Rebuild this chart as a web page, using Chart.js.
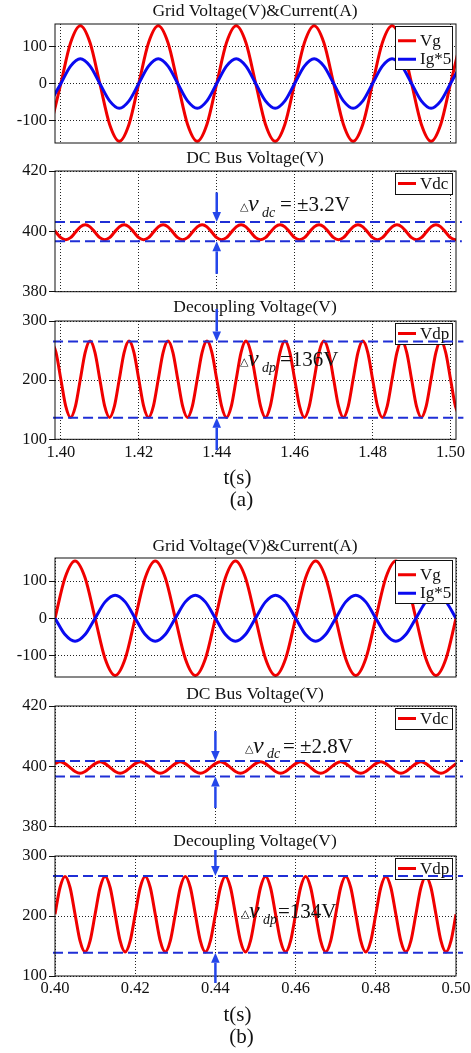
<!DOCTYPE html>
<html>
<head>
<meta charset="utf-8">
<script src="https://cdn.jsdelivr.net/npm/chart.js@4.4.1/dist/chart.umd.min.js"></script>
<style>
body{margin:0;background:#fff;width:471px;height:1053px;position:relative;overflow:hidden}
canvas{position:absolute;left:0}
</style>
</head>
<body>
<canvas id="a1"></canvas>
<canvas id="a2"></canvas>
<canvas id="a3"></canvas>
<canvas id="b1"></canvas>
<canvas id="b2"></canvas>
<canvas id="b3"></canvas>
<script>
/* (a) rectifier mode, t = 1.40 ~ 1.50 s */
var tGridA = [1.3975,1.4,1.4025,1.405,1.4075,1.41,1.4125,1.415,1.4175,1.42,1.4225,1.425,1.4275,1.43,1.4325,1.435,1.4375,1.44,1.4425,1.445,1.4475,1.45,1.4525,1.455,1.4575,1.46,1.4625,1.465,1.4675,1.47,1.4725,1.475,1.4775,1.48,1.4825,1.485,1.4875,1.49,1.4925,1.495,1.4975,1.5,1.5025];
var vgA = [-110,
  0,110,156,110,0,-110,-156,-110, 0,110,156,110,0,-110,-156,-110,
  0,110,156,110,0,-110,-156,-110, 0,110,156,110,0,-110,-156,-110,
  0,110,156,110,0,-110,-156,-110, 0,110];
var igA = [-47,
  0,47,67,47,0,-47,-67,-47, 0,47,67,47,0,-47,-67,-47,
  0,47,67,47,0,-47,-67,-47, 0,47,67,47,0,-47,-67,-47,
  0,47,67,47,0,-47,-67,-47, 0,47];
var tBusA = [
  1.3975,1.39875,1.4,1.40125,1.4025,1.40375,1.405,1.40625,
  1.4075,1.40875,1.41,1.41125,1.4125,1.41375,1.415,1.41625,
  1.4175,1.41875,1.42,1.42125,1.4225,1.42375,1.425,1.42625,
  1.4275,1.42875,1.43,1.43125,1.4325,1.43375,1.435,1.43625,
  1.4375,1.43875,1.44,1.44125,1.4425,1.44375,1.445,1.44625,
  1.4475,1.44875,1.45,1.45125,1.4525,1.45375,1.455,1.45625,
  1.4575,1.45875,1.46,1.46125,1.4625,1.46375,1.465,1.46625,
  1.4675,1.46875,1.47,1.47125,1.4725,1.47375,1.475,1.47625,
  1.4775,1.47875,1.48,1.48125,1.4825,1.48375,1.485,1.48625,
  1.4875,1.48875,1.49,1.49125,1.4925,1.49375,1.495,1.49625,
  1.4975,1.49875,1.5,1.50125,1.5025];
var vdcA = [
  401.5,399.7,397.9,397.2,397.9,399.7,401.5,402.2, 401.5,399.7,397.9,397.2,397.9,399.7,401.5,402.2,
  401.5,399.7,397.9,397.2,397.9,399.7,401.5,402.2, 401.5,399.7,397.9,397.2,397.9,399.7,401.5,402.2,
  401.5,399.7,397.9,397.2,397.9,399.7,401.5,402.2, 401.5,399.7,397.9,397.2,397.9,399.7,401.5,402.2,
  401.5,399.7,397.9,397.2,397.9,399.7,401.5,402.2, 401.5,399.7,397.9,397.2,397.9,399.7,401.5,402.2,
  401.5,399.7,397.9,397.2,397.9,399.7,401.5,402.2, 401.5,399.7,397.9,397.2,397.9,399.7,401.5,402.2,
  401.5,399.7,397.9,397.2,397.9];
var vdpA = [
  266,247.1,201.5,155.9,137,155.9,201.5,247.1, 266,247.1,201.5,155.9,137,155.9,201.5,247.1,
  266,247.1,201.5,155.9,137,155.9,201.5,247.1, 266,247.1,201.5,155.9,137,155.9,201.5,247.1,
  266,247.1,201.5,155.9,137,155.9,201.5,247.1, 266,247.1,201.5,155.9,137,155.9,201.5,247.1,
  266,247.1,201.5,155.9,137,155.9,201.5,247.1, 266,247.1,201.5,155.9,137,155.9,201.5,247.1,
  266,247.1,201.5,155.9,137,155.9,201.5,247.1, 266,247.1,201.5,155.9,137,155.9,201.5,247.1,
  266,247.1,201.5,155.9,137];

/* (b) inverter mode, t = 0.40 ~ 0.50 s */
var tGridB = [0.4,0.4025,0.405,0.4075,0.41,0.4125,0.415,0.4175,0.42,0.4225,0.425,0.4275,0.43,0.4325,0.435,0.4375,0.44,0.4425,0.445,0.4475,0.45,0.4525,0.455,0.4575,0.46,0.4625,0.465,0.4675,0.47,0.4725,0.475,0.4775,0.48,0.4825,0.485,0.4875,0.49,0.4925,0.495,0.4975,0.5];
var vgB = [
  0,109,154,109,0,-109,-154,-109, 0,109,154,109,0,-109,-154,-109,
  0,109,154,109,0,-109,-154,-109, 0,109,154,109,0,-109,-154,-109,
  0,109,154,109,0,-109,-154,-109, 0];
var igB = [
  0,-44,-62,-44,0,44,62,44, 0,-44,-62,-44,0,44,62,44,
  0,-44,-62,-44,0,44,62,44, 0,-44,-62,-44,0,44,62,44,
  0,-44,-62,-44,0,44,62,44, 0];
var tBusB = [
  0.4,0.40125,0.4025,0.40375,0.405,0.40625,0.4075,0.40875,
  0.41,0.41125,0.4125,0.41375,0.415,0.41625,0.4175,0.41875,
  0.42,0.42125,0.4225,0.42375,0.425,0.42625,0.4275,0.42875,
  0.43,0.43125,0.4325,0.43375,0.435,0.43625,0.4375,0.43875,
  0.44,0.44125,0.4425,0.44375,0.445,0.44625,0.4475,0.44875,
  0.45,0.45125,0.4525,0.45375,0.455,0.45625,0.4575,0.45875,
  0.46,0.46125,0.4625,0.46375,0.465,0.46625,0.4675,0.46875,
  0.47,0.47125,0.4725,0.47375,0.475,0.47625,0.4775,0.47875,
  0.48,0.48125,0.4825,0.48375,0.485,0.48625,0.4875,0.48875,
  0.49,0.49125,0.4925,0.49375,0.495,0.49625,0.4975,0.49875,
  0.5];
var vdcB = [
  400.9,401.5,400.9,399.6,398.3,397.7,398.3,399.6, 400.9,401.5,400.9,399.6,398.3,397.7,398.3,399.6,
  400.9,401.5,400.9,399.6,398.3,397.7,398.3,399.6, 400.9,401.5,400.9,399.6,398.3,397.7,398.3,399.6,
  400.9,401.5,400.9,399.6,398.3,397.7,398.3,399.6, 400.9,401.5,400.9,399.6,398.3,397.7,398.3,399.6,
  400.9,401.5,400.9,399.6,398.3,397.7,398.3,399.6, 400.9,401.5,400.9,399.6,398.3,397.7,398.3,399.6,
  400.9,401.5,400.9,399.6,398.3,397.7,398.3,399.6, 400.9,401.5,400.9,399.6,398.3,397.7,398.3,399.6,
  400.9];
var vdpB = [
  203,247.5,266,247.5,203,158.5,140,158.5, 203,247.5,266,247.5,203,158.5,140,158.5,
  203,247.5,266,247.5,203,158.5,140,158.5, 203,247.5,266,247.5,203,158.5,140,158.5,
  203,247.5,266,247.5,203,158.5,140,158.5, 203,247.5,266,247.5,203,158.5,140,158.5,
  203,247.5,266,247.5,203,158.5,140,158.5, 203,247.5,266,247.5,203,158.5,140,158.5,
  203,247.5,266,247.5,203,158.5,140,158.5, 203,247.5,266,247.5,203,158.5,140,158.5,
  203];

/* axes */
var xRangeA = [1.3985, 1.5014];
var xRangeB = [0.40, 0.50];
var xTicksA = [1.40, 1.42, 1.44, 1.46, 1.48, 1.50];
var xTicksB = [0.40, 0.42, 0.44, 0.46, 0.48, 0.50];
var yTicksGrid = [-100, 0, 100];
var yTicksDc = [380, 400, 420];
var yTicksDp = [100, 200, 300];

/* ripple bands (dashed) and arrow marks: [upper, lower] */
var dcBandA = [403.1, 396.7];
var dpBandA = [265.5, 136.5];
var dcBandB = [401.8, 396.6];
var dpBandB = [266.7, 138.8];
var dcArrowTailA = [412.9, 385.9];
var dpArrowTailA = [320.3, 81.9];
var dcArrowTailB = [411.7, 386.2];
var dpArrowTailB = [310, 88.3];
var arrowTimeA = 1.44;
var arrowTimeB = 0.44;

var SERIF = '"Liberation Serif", "Times New Roman", serif';
var RED = '#f00000';
var BLUE = '#0a0af0';
var DASH_BLUE = '#1f2fd6';
var ARROW_BLUE = '#2446ea';

function xy(t, v) {
    return t.map(function (x, i) { return {x: x, y: v[i]}; });
}

function wave(label, t, v, color, order, legendAfter) {
    return {label: label, data: xy(t, v), borderColor: color, borderWidth: 3,
        pointRadius: 0, cubicInterpolationMode: 'monotone', fill: false,
        order: order, legendAfter: legendAfter};
}

function band(t0, t1, v) {
    return {data: [{x: t0, y: v}, {x: t1, y: v}], borderColor: DASH_BLUE, borderWidth: 2,
        borderDash: [10, 5], pointRadius: 0, order: -1, clip: {left: 4, right: 10, top: 4, bottom: 4}};
}

function drawArrow(ctx, x, yFrom, yTo) {
    var dir = yTo > yFrom ? 1 : -1;
    var head = 10, half = 4.3;
    ctx.strokeStyle = ARROW_BLUE;
    ctx.fillStyle = ARROW_BLUE;
    ctx.lineWidth = 2.5;
    ctx.setLineDash([]);
    ctx.beginPath();
    ctx.moveTo(x, yFrom);
    ctx.lineTo(x, yTo - dir * head);
    ctx.stroke();
    ctx.beginPath();
    ctx.moveTo(x, yTo);
    ctx.lineTo(x - half, yTo - dir * head);
    ctx.lineTo(x + half, yTo - dir * head);
    ctx.closePath();
    ctx.fill();
}

function drawLegend(chart) {
    var ctx = chart.ctx, a = chart.chartArea;
    var items = chart.data.datasets.filter(function (d) { return d.label; });
    var n = items.length;
    var w = 57, h = 22 * n - 1;
    var x0 = a.right - 4 - w, y0 = a.top + 2;
    ctx.save();
    ctx.fillStyle = '#fff';
    ctx.fillRect(x0, y0, w, h);
    ctx.strokeStyle = '#111';
    ctx.lineWidth = 1;
    ctx.strokeRect(Math.round(x0) + 0.5, Math.round(y0) + 0.5, w, h);
    ctx.font = '17px ' + SERIF;
    ctx.textAlign = 'left';
    ctx.textBaseline = 'alphabetic';
    items.forEach(function (d, i) {
        var cy = y0 + h / 2 + (i - (n - 1) / 2) * 18.5 + (n - 1) * 2.5;
        ctx.strokeStyle = d.borderColor;
        ctx.lineWidth = 3;
        ctx.beginPath();
        ctx.moveTo(x0 + 3, cy);
        ctx.lineTo(x0 + 21, cy);
        ctx.stroke();
        ctx.fillStyle = '#111';
        ctx.fillText(d.label, x0 + 25, cy + 5);
    });
    ctx.restore();
}

function drawNote(ctx, a, note) {
    var x = a.left + note.dx, y = a.top + note.dy;
    ctx.fillStyle = '#111';
    ctx.textAlign = 'left';
    ctx.textBaseline = 'alphabetic';
    ctx.font = '11px "DejaVu Sans"';
    ctx.fillText('\u25B3', x, y - 1);
    ctx.font = 'italic 24px ' + SERIF;
    ctx.fillText('v', x + 8, y);
    ctx.font = 'italic 14px ' + SERIF;
    ctx.fillText(note.sub, x + 22, y + 5.5);
    ctx.font = '21px ' + SERIF;
    ctx.fillText(note.text, x + note.gap, y);
}

var panelDecor = {
    id: 'panelDecor',
    afterDatasetDraw: function (chart, args) {
        if (chart.data.datasets[args.index].legendAfter) drawLegend(chart);
    },
    afterDatasetsDraw: function (chart, args, o) {
        var ctx = chart.ctx, a = chart.chartArea;
        var xs = chart.scales.x, ys = chart.scales.y;
        ctx.save();
        ctx.setLineDash([]);
        ctx.strokeStyle = '#111';
        ctx.lineWidth = 1;
        ctx.strokeRect(a.left, a.top, a.right - a.left, a.bottom - a.top);

        ctx.fillStyle = '#111';
        ctx.font = '17.5px ' + SERIF;
        ctx.textAlign = 'center';
        ctx.textBaseline = 'alphabetic';
        ctx.fillText(o.title, 255, a.top - o.titleGap);

        if (o.arrowAt !== undefined) {
            var px = xs.getPixelForValue(o.arrowAt);
            drawArrow(ctx, px, ys.getPixelForValue(o.tails[0]), ys.getPixelForValue(o.tips[0]));
            drawArrow(ctx, px, ys.getPixelForValue(o.tails[1]), ys.getPixelForValue(o.tips[1]));
        }
        if (o.note) drawNote(ctx, a, o.note);
        if (o.caption) {
            ctx.fillStyle = '#111';
            ctx.textAlign = 'center';
            ctx.font = '21px ' + SERIF;
            ctx.fillText('t(s)', 237.5, a.bottom + 45);
            ctx.fillText(o.caption, 241.5, a.bottom + 66.5);
        }
        ctx.restore();
    }
};

function panel(id, top, height, cfg) {
    var cv = document.getElementById(id);
    cv.width = 471;
    cv.height = height;
    cv.style.top = top + 'px';
    var tickFont = {family: SERIF, size: 16.5};
    return new Chart(cv, {
        type: 'line',
        data: {datasets: cfg.datasets},
        options: {
            responsive: false,
            animation: false,
            devicePixelRatio: 1,
            layout: {padding: {top: cfg.padTop, right: 15, left: 0, bottom: 0}},
            plugins: {legend: {display: false}, tooltip: {enabled: false}, panelDecor: cfg.decor},
            scales: {
                x: {
                    type: 'linear', min: cfg.xRange[0], max: cfg.xRange[1],
                    afterBuildTicks: function (s) { s.ticks = cfg.xTicks.map(function (v) { return {value: v}; }); },
                    afterFit: function (s) { s.height = cfg.xHeight; s.paddingLeft = 0; s.paddingRight = 0; },
                    grid: {color: '#222', lineWidth: 1, drawTicks: false},
                    border: {display: false, dash: [1, 2]},
                    ticks: {display: cfg.showX, padding: 3, color: '#111', font: tickFont, maxRotation: 0, autoSkip: false,
                        callback: function (v) { return v.toFixed(2); }}
                },
                y: {
                    min: cfg.yRange[0], max: cfg.yRange[1],
                    afterBuildTicks: function (s) { s.ticks = cfg.yTicks.map(function (v) { return {value: v}; }); },
                    afterFit: function (s) { s.width = 55; s.paddingTop = 0; s.paddingBottom = 0; },
                    grid: {color: '#222', lineWidth: 1, tickColor: '#111', tickLength: 6},
                    border: {display: false, dash: [1, 2]},
                    ticks: {padding: 2, color: '#111', font: tickFont}
                }
            }
        },
        plugins: [panelDecor]
    });
}

/* (a) */
panel('a1', 0, 160, {
    padTop: 24, xHeight: 17, xRange: xRangeA, xTicks: xTicksA, showX: false,
    yRange: [-161, 161], yTicks: yTicksGrid,
    datasets: [wave('Vg', tGridA, vgA, RED, 1, false), wave('Ig*5', tGridA, igA, BLUE, 0, true)],
    decor: {title: 'Grid Voltage(V)&Current(A)', titleGap: 8}
});
panel('a2', 150, 162, {
    padTop: 21, xHeight: 20.3, xRange: xRangeA, xTicks: xTicksA, showX: false,
    yRange: [380, 420], yTicks: yTicksDc,
    datasets: [wave('Vdc', tBusA, vdcA, RED, 0, true),
        band(xRangeA[0], 1.5029, dcBandA[0]), band(xRangeA[0], 1.5029, dcBandA[1])],
    decor: {title: 'DC Bus Voltage(V)', titleGap: 7.7, arrowAt: arrowTimeA, tails: dcArrowTailA, tips: dcBandA,
        note: {dx: 185, dy: 40, sub: 'dc', text: '= \u00B13.2V', gap: 40}}
});
panel('a3', 295, 220, {
    padTop: 26, xHeight: 75.7, xRange: xRangeA, xTicks: xTicksA, showX: true,
    yRange: [100, 300], yTicks: yTicksDp,
    datasets: [wave('Vdp', tBusA, vdpA, RED, 0, true),
        band(1.3980, 1.5033, dpBandA[0]), band(1.3980, 1.5033, dpBandA[1])],
    decor: {title: 'Decoupling Voltage(V)', titleGap: 9.3, arrowAt: arrowTimeA, tails: dpArrowTailA, tips: dpBandA,
        note: {dx: 185, dy: 45, sub: 'dp', text: '=136V', gap: 40}, caption: '(a)'}
});

/* (b) */
panel('b1', 515, 175, {
    padTop: 43, xHeight: 13, xRange: xRangeB, xTicks: xTicksB, showX: false,
    yRange: [-158, 162], yTicks: yTicksGrid,
    datasets: [wave('Vg', tGridB, vgB, RED, 1, false), wave('Ig*5', tGridB, igB, BLUE, 0, true)],
    decor: {title: 'Grid Voltage(V)&Current(A)', titleGap: 7.3}
});
panel('b2', 680, 165, {
    padTop: 26, xHeight: 18.3, xRange: xRangeB, xTicks: xTicksB, showX: false,
    yRange: [380, 420], yTicks: yTicksDc,
    datasets: [wave('Vdc', tBusB, vdcB, RED, 0, true),
        band(0.40, 0.50175, dcBandB[0]), band(0.40, 0.50175, dcBandB[1])],
    decor: {title: 'DC Bus Voltage(V)', titleGap: 6.7, arrowAt: arrowTimeB, tails: dcArrowTailB, tips: dcBandB,
        note: {dx: 190, dy: 46.7, sub: 'dc', text: '= \u00B12.8V', gap: 38}}
});
panel('b3', 830, 223, {
    padTop: 26, xHeight: 77, xRange: xRangeB, xTicks: xTicksB, showX: true,
    yRange: [100, 300], yTicks: yTicksDp,
    datasets: [wave('Vdp', tBusB, vdpB, RED, 0, true),
        band(0.3995, 0.50175, dpBandB[0]), band(0.3995, 0.50175, dpBandB[1])],
    decor: {title: 'Decoupling Voltage(V)', titleGap: 10, arrowAt: arrowTimeB, tails: dpArrowTailB, tips: dpBandB,
        note: {dx: 186, dy: 62.3, sub: 'dp', text: '=134V', gap: 37}, caption: '(b)'}
});
</script>
</body>
</html>
